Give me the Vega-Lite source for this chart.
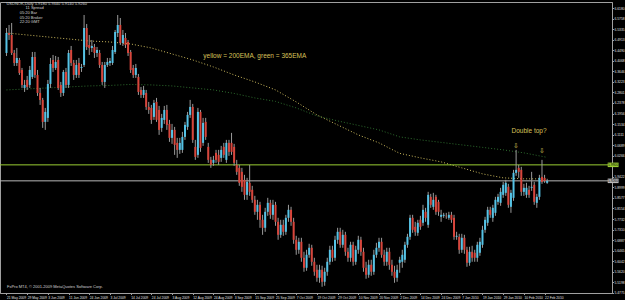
{
"$schema":"https://vega.github.io/schema/vega-lite/v6.json",
"width":612,"height":291,"autosize":"none",
"padding":{"left":0,"top":2,"right":13,"bottom":7},
"background":"#000000",
"config":{"view":{"stroke":"#a0a0a0","strokeWidth":1},"text":{"font":"Liberation Sans"},
 "axis":{"labelFont":"Liberation Sans","labelColor":"#e0e0e0","tickSize":1.5,"tickColor":"#a0a0a0","domainColor":"#a0a0a0","labelPadding":0.5,"grid":false,"labelOverlap":false,"labelBound":false,"labelFlush":false,"tickCount":100},
 "axisX":{"labelAlign":"left","labelBaseline":"top","labelFontSize":3.3},
 "axisY":{"labelFontSize":3.3,"labelAlign":"left","labelBaseline":"middle"}},
"datasets":{
"bars":[
{"i":0,"o":6.438,"h":6.538,"l":6.426,"c":6.518},{"i":1,"o":6.518,"h":6.550,"l":6.490,"c":6.510},{"i":2,"o":6.510,"h":6.558,"l":6.430,"c":6.438},{"i":3,"o":6.438,"h":6.450,"l":6.386,"c":6.398},{"i":4,"o":6.398,"h":6.458,"l":6.386,"c":6.418},
{"i":5,"o":6.410,"h":6.418,"l":6.350,"c":6.358},{"i":6,"o":6.370,"h":6.378,"l":6.298,"c":6.310},{"i":7,"o":6.298,"h":6.330,"l":6.282,"c":6.310},{"i":8,"o":6.330,"h":6.346,"l":6.290,"c":6.302},{"i":9,"o":6.310,"h":6.386,"l":6.298,"c":6.370},
{"i":10,"o":6.342,"h":6.442,"l":6.334,"c":6.422},{"i":11,"o":6.422,"h":6.442,"l":6.338,"c":6.350},{"i":12,"o":6.350,"h":6.370,"l":6.266,"c":6.278},{"i":13,"o":6.278,"h":6.298,"l":6.230,"c":6.250},{"i":14,"o":6.250,"h":6.258,"l":6.138,"c":6.162},
{"i":15,"o":6.162,"h":6.218,"l":6.130,"c":6.202},{"i":16,"o":6.178,"h":6.330,"l":6.162,"c":6.314},{"i":17,"o":6.314,"h":6.418,"l":6.298,"c":6.394},{"i":18,"o":6.410,"h":6.430,"l":6.362,"c":6.378},{"i":19,"o":6.378,"h":6.426,"l":6.370,"c":6.402},
{"i":20,"o":6.410,"h":6.422,"l":6.290,"c":6.298},{"i":21,"o":6.310,"h":6.322,"l":6.262,"c":6.278},{"i":22,"o":6.278,"h":6.370,"l":6.266,"c":6.362},{"i":23,"o":6.362,"h":6.378,"l":6.298,"c":6.310},{"i":24,"o":6.310,"h":6.450,"l":6.298,"c":6.438},
{"i":25,"o":6.450,"h":6.466,"l":6.386,"c":6.398},{"i":26,"o":6.398,"h":6.410,"l":6.330,"c":6.350},{"i":27,"o":6.350,"h":6.410,"l":6.338,"c":6.390},{"i":28,"o":6.398,"h":6.418,"l":6.338,"c":6.350},{"i":29,"o":6.378,"h":6.394,"l":6.362,"c":6.382},
{"i":30,"o":6.390,"h":6.590,"l":6.382,"c":6.538},{"i":31,"o":6.538,"h":6.554,"l":6.450,"c":6.462},{"i":32,"o":6.470,"h":6.510,"l":6.430,"c":6.458},{"i":33,"o":6.458,"h":6.490,"l":6.442,"c":6.466},{"i":34,"o":6.462,"h":6.474,"l":6.418,"c":6.438},
{"i":35,"o":6.438,"h":6.462,"l":6.422,"c":6.450},{"i":36,"o":6.438,"h":6.450,"l":6.378,"c":6.390},{"i":37,"o":6.390,"h":6.402,"l":6.310,"c":6.322},{"i":38,"o":6.322,"h":6.402,"l":6.298,"c":6.390},{"i":39,"o":6.390,"h":6.418,"l":6.382,"c":6.402},
{"i":40,"o":6.398,"h":6.418,"l":6.386,"c":6.406},{"i":41,"o":6.398,"h":6.466,"l":6.390,"c":6.450},{"i":42,"o":6.442,"h":6.530,"l":6.434,"c":6.522},{"i":43,"o":6.518,"h":6.590,"l":6.502,"c":6.550},{"i":44,"o":6.550,"h":6.578,"l":6.470,"c":6.478},
{"i":45,"o":6.478,"h":6.530,"l":6.466,"c":6.510},{"i":46,"o":6.498,"h":6.518,"l":6.458,"c":6.470},{"i":47,"o":6.482,"h":6.490,"l":6.426,"c":6.438},{"i":48,"o":6.442,"h":6.450,"l":6.358,"c":6.370},{"i":49,"o":6.378,"h":6.390,"l":6.338,"c":6.350},
{"i":50,"o":6.350,"h":6.394,"l":6.338,"c":6.378},{"i":51,"o":6.342,"h":6.354,"l":6.270,"c":6.282},{"i":52,"o":6.290,"h":6.302,"l":6.258,"c":6.270},{"i":53,"o":6.270,"h":6.306,"l":6.258,"c":6.290},{"i":54,"o":6.278,"h":6.290,"l":6.210,"c":6.222},
{"i":55,"o":6.222,"h":6.242,"l":6.194,"c":6.210},{"i":56,"o":6.218,"h":6.230,"l":6.154,"c":6.170},{"i":57,"o":6.182,"h":6.250,"l":6.170,"c":6.238},{"i":58,"o":6.242,"h":6.258,"l":6.162,"c":6.170},{"i":59,"o":6.210,"h":6.226,"l":6.110,"c":6.130},
{"i":60,"o":6.138,"h":6.194,"l":6.122,"c":6.178},{"i":61,"o":6.170,"h":6.226,"l":6.154,"c":6.210},{"i":62,"o":6.210,"h":6.230,"l":6.130,"c":6.150},{"i":63,"o":6.154,"h":6.170,"l":6.082,"c":6.098},{"i":64,"o":6.098,"h":6.154,"l":6.074,"c":6.130},
{"i":65,"o":6.130,"h":6.142,"l":6.030,"c":6.070},{"i":66,"o":6.078,"h":6.098,"l":6.018,"c":6.050},{"i":67,"o":6.050,"h":6.098,"l":6.034,"c":6.078},{"i":68,"o":6.050,"h":6.122,"l":6.038,"c":6.102},{"i":69,"o":6.102,"h":6.162,"l":6.090,"c":6.150},
{"i":70,"o":6.142,"h":6.202,"l":6.130,"c":6.190},{"i":71,"o":6.190,"h":6.250,"l":6.178,"c":6.222},{"i":72,"o":6.222,"h":6.234,"l":6.078,"c":6.090},{"i":73,"o":6.062,"h":6.090,"l":6.010,"c":6.022},{"i":74,"o":6.030,"h":6.218,"l":6.018,"c":6.202},
{"i":75,"o":6.202,"h":6.210,"l":6.042,"c":6.058},{"i":76,"o":6.078,"h":6.178,"l":6.066,"c":6.158},{"i":77,"o":6.162,"h":6.178,"l":6.090,"c":6.102},{"i":78,"o":6.062,"h":6.078,"l":5.998,"c":6.010},{"i":79,"o":6.010,"h":6.022,"l":5.978,"c":5.990},
{"i":80,"o":5.998,"h":6.026,"l":5.986,"c":6.010},{"i":81,"o":6.038,"h":6.050,"l":5.998,"c":6.010},{"i":82,"o":6.030,"h":6.050,"l":5.990,"c":6.002},{"i":83,"o":6.018,"h":6.066,"l":6.002,"c":6.050},{"i":84,"o":6.062,"h":6.078,"l":6.018,"c":6.030},
{"i":85,"o":6.010,"h":6.090,"l":5.998,"c":6.078},{"i":86,"o":6.078,"h":6.090,"l":6.026,"c":6.042},{"i":87,"o":6.078,"h":6.118,"l":6.030,"c":6.042},{"i":88,"o":6.062,"h":6.074,"l":5.986,"c":5.998},{"i":89,"o":5.990,"h":6.010,"l":5.950,"c":5.962},
{"i":90,"o":5.978,"h":5.990,"l":5.906,"c":5.918},{"i":91,"o":5.962,"h":5.978,"l":5.882,"c":5.902},{"i":92,"o":5.930,"h":5.950,"l":5.850,"c":5.870},{"i":93,"o":5.870,"h":5.938,"l":5.850,"c":5.922},{"i":94,"o":5.918,"h":5.990,"l":5.866,"c":5.882},
{"i":95,"o":5.890,"h":5.906,"l":5.838,"c":5.850},{"i":96,"o":5.850,"h":5.866,"l":5.790,"c":5.802},{"i":97,"o":5.802,"h":5.850,"l":5.770,"c":5.830},{"i":98,"o":5.830,"h":5.842,"l":5.738,"c":5.770},{"i":99,"o":5.770,"h":5.790,"l":5.710,"c":5.738},
{"i":100,"o":5.738,"h":5.818,"l":5.722,"c":5.802},{"i":101,"o":5.802,"h":5.858,"l":5.786,"c":5.838},{"i":102,"o":5.838,"h":5.850,"l":5.774,"c":5.790},{"i":103,"o":5.790,"h":5.850,"l":5.770,"c":5.830},{"i":104,"o":5.830,"h":5.842,"l":5.746,"c":5.762},
{"i":105,"o":5.762,"h":5.778,"l":5.690,"c":5.710},{"i":106,"o":5.710,"h":5.770,"l":5.698,"c":5.750},{"i":107,"o":5.750,"h":5.770,"l":5.706,"c":5.722},{"i":108,"o":5.722,"h":5.790,"l":5.710,"c":5.778},{"i":109,"o":5.778,"h":5.830,"l":5.762,"c":5.810},
{"i":110,"o":5.810,"h":5.822,"l":5.746,"c":5.762},{"i":111,"o":5.762,"h":5.778,"l":5.674,"c":5.690},{"i":112,"o":5.690,"h":5.706,"l":5.630,"c":5.650},{"i":113,"o":5.650,"h":5.698,"l":5.634,"c":5.682},{"i":114,"o":5.682,"h":5.698,"l":5.602,"c":5.618},
{"i":115,"o":5.618,"h":5.642,"l":5.562,"c":5.578},{"i":116,"o":5.578,"h":5.650,"l":5.566,"c":5.630},{"i":117,"o":5.630,"h":5.674,"l":5.618,"c":5.658},{"i":118,"o":5.658,"h":5.670,"l":5.586,"c":5.602},{"i":119,"o":5.602,"h":5.618,"l":5.546,"c":5.562},
{"i":120,"o":5.570,"h":5.590,"l":5.522,"c":5.538},{"i":121,"o":5.538,"h":5.590,"l":5.518,"c":5.570},{"i":122,"o":5.570,"h":5.586,"l":5.502,"c":5.522},{"i":123,"o":5.522,"h":5.578,"l":5.506,"c":5.562},{"i":124,"o":5.562,"h":5.618,"l":5.546,"c":5.602},
{"i":125,"o":5.602,"h":5.666,"l":5.590,"c":5.650},{"i":126,"o":5.650,"h":5.666,"l":5.602,"c":5.618},{"i":127,"o":5.618,"h":5.706,"l":5.606,"c":5.690},{"i":128,"o":5.690,"h":5.738,"l":5.674,"c":5.722},{"i":129,"o":5.722,"h":5.738,"l":5.658,"c":5.670},
{"i":130,"o":5.670,"h":5.730,"l":5.658,"c":5.710},{"i":131,"o":5.710,"h":5.722,"l":5.626,"c":5.642},{"i":132,"o":5.642,"h":5.658,"l":5.602,"c":5.618},{"i":133,"o":5.618,"h":5.682,"l":5.602,"c":5.670},{"i":134,"o":5.670,"h":5.682,"l":5.586,"c":5.602},
{"i":135,"o":5.602,"h":5.666,"l":5.590,"c":5.650},{"i":136,"o":5.650,"h":5.706,"l":5.634,"c":5.690},{"i":137,"o":5.690,"h":5.702,"l":5.626,"c":5.642},{"i":138,"o":5.642,"h":5.658,"l":5.562,"c":5.578},{"i":139,"o":5.578,"h":5.602,"l":5.534,"c":5.550},
{"i":140,"o":5.550,"h":5.610,"l":5.538,"c":5.590},{"i":141,"o":5.590,"h":5.610,"l":5.546,"c":5.562},{"i":142,"o":5.562,"h":5.650,"l":5.550,"c":5.630},{"i":143,"o":5.630,"h":5.678,"l":5.618,"c":5.658},{"i":144,"o":5.658,"h":5.698,"l":5.642,"c":5.682},
{"i":145,"o":5.682,"h":5.698,"l":5.618,"c":5.630},{"i":146,"o":5.630,"h":5.650,"l":5.586,"c":5.602},{"i":147,"o":5.602,"h":5.658,"l":5.586,"c":5.642},{"i":148,"o":5.642,"h":5.658,"l":5.570,"c":5.590},{"i":149,"o":5.590,"h":5.610,"l":5.546,"c":5.562},
{"i":150,"o":5.562,"h":5.586,"l":5.518,"c":5.538},{"i":151,"o":5.538,"h":5.590,"l":5.522,"c":5.570},{"i":152,"o":5.598,"h":5.622,"l":5.558,"c":5.610},{"i":153,"o":5.602,"h":5.650,"l":5.578,"c":5.630},{"i":154,"o":5.610,"h":5.682,"l":5.598,"c":5.670},
{"i":155,"o":5.670,"h":5.714,"l":5.658,"c":5.702},{"i":156,"o":5.702,"h":5.790,"l":5.690,"c":5.778},{"i":157,"o":5.778,"h":5.790,"l":5.718,"c":5.730},{"i":158,"o":5.742,"h":5.762,"l":5.706,"c":5.722},{"i":159,"o":5.718,"h":5.770,"l":5.706,"c":5.758},
{"i":160,"o":5.770,"h":5.786,"l":5.730,"c":5.742},{"i":161,"o":5.758,"h":5.830,"l":5.746,"c":5.810},{"i":162,"o":5.802,"h":5.818,"l":5.762,"c":5.778},{"i":163,"o":5.750,"h":5.882,"l":5.738,"c":5.870},{"i":164,"o":5.862,"h":5.874,"l":5.818,"c":5.830},
{"i":165,"o":5.822,"h":5.878,"l":5.810,"c":5.850},{"i":166,"o":5.862,"h":5.870,"l":5.790,"c":5.802},{"i":167,"o":5.842,"h":5.850,"l":5.786,"c":5.802},{"i":168,"o":5.782,"h":5.810,"l":5.762,"c":5.790},{"i":169,"o":5.786,"h":5.798,"l":5.778,"c":5.790},
{"i":170,"o":5.786,"h":5.798,"l":5.774,"c":5.784},{"i":171,"o":5.778,"h":5.802,"l":5.770,"c":5.790},{"i":172,"o":5.790,"h":5.802,"l":5.758,"c":5.770},{"i":173,"o":5.778,"h":5.790,"l":5.690,"c":5.702},{"i":174,"o":5.702,"h":5.722,"l":5.690,"c":5.706},
{"i":175,"o":5.702,"h":5.714,"l":5.634,"c":5.650},{"i":176,"o":5.650,"h":5.714,"l":5.638,"c":5.698},{"i":177,"o":5.698,"h":5.710,"l":5.634,"c":5.650},{"i":178,"o":5.650,"h":5.662,"l":5.582,"c":5.598},{"i":179,"o":5.598,"h":5.662,"l":5.586,"c":5.642},
{"i":180,"o":5.642,"h":5.666,"l":5.602,"c":5.618},{"i":181,"o":5.638,"h":5.650,"l":5.602,"c":5.618},{"i":182,"o":5.618,"h":5.682,"l":5.602,"c":5.670},{"i":183,"o":5.638,"h":5.698,"l":5.626,"c":5.682},{"i":184,"o":5.670,"h":5.746,"l":5.658,"c":5.730},
{"i":185,"o":5.730,"h":5.782,"l":5.718,"c":5.770},{"i":186,"o":5.758,"h":5.822,"l":5.746,"c":5.810},{"i":187,"o":5.810,"h":5.822,"l":5.778,"c":5.790},{"i":188,"o":5.778,"h":5.830,"l":5.762,"c":5.818},{"i":189,"o":5.798,"h":5.862,"l":5.786,"c":5.850},
{"i":190,"o":5.842,"h":5.874,"l":5.830,"c":5.862},{"i":191,"o":5.838,"h":5.898,"l":5.826,"c":5.882},{"i":192,"o":5.870,"h":5.922,"l":5.858,"c":5.910},{"i":193,"o":5.878,"h":5.930,"l":5.866,"c":5.918},{"i":194,"o":5.902,"h":5.914,"l":5.818,"c":5.830},
{"i":195,"o":5.822,"h":5.890,"l":5.798,"c":5.878},{"i":196,"o":5.858,"h":5.970,"l":5.846,"c":5.958},{"i":197,"o":5.958,"h":6.050,"l":5.946,"c":5.970},{"i":198,"o":5.978,"h":5.990,"l":5.938,"c":5.962},{"i":199,"o":5.970,"h":5.982,"l":5.866,"c":5.882},
{"i":200,"o":5.882,"h":5.914,"l":5.866,"c":5.898},{"i":201,"o":5.870,"h":5.918,"l":5.858,"c":5.898},{"i":202,"o":5.890,"h":5.906,"l":5.858,"c":5.870},{"i":203,"o":5.898,"h":5.962,"l":5.886,"c":5.902},{"i":204,"o":5.910,"h":5.922,"l":5.830,"c":5.842},
{"i":205,"o":5.838,"h":5.874,"l":5.818,"c":5.862},{"i":206,"o":5.862,"h":5.950,"l":5.850,"c":5.938},{"i":207,"o":5.942,"h":6.010,"l":5.914,"c":5.922},{"i":208,"o":5.938,"h":5.950,"l":5.918,"c":5.926},{"i":209,"o":5.918,"h":5.934,"l":5.914,"c":5.926}
],
"ema":[
{"i":0,"e200":6.518,"e365":6.290},{"i":8,"e200":6.510,"e365":6.294},{"i":16,"e200":6.502,"e365":6.298},{"i":24,"e200":6.494,"e365":6.302},{"i":32,"e200":6.486,"e365":6.306},
{"i":40,"e200":6.482,"e365":6.308},{"i":48,"e200":6.474,"e365":6.312},{"i":56,"e200":6.458,"e365":6.310},{"i":64,"e200":6.434,"e365":6.306},{"i":72,"e200":6.410,"e365":6.298},
{"i":80,"e200":6.382,"e365":6.290},{"i":88,"e200":6.350,"e365":6.276},{"i":96,"e200":6.322,"e365":6.258},{"i":104,"e200":6.290,"e365":6.244},{"i":112,"e200":6.242,"e365":6.218},
{"i":120,"e200":6.190,"e365":6.186},{"i":128,"e200":6.150,"e365":6.166},{"i":136,"e200":6.110,"e365":6.148},{"i":144,"e200":6.078,"e365":6.130},{"i":152,"e200":6.036,"e365":6.102},
{"i":160,"e200":6.018,"e365":6.090},{"i":168,"e200":6.002,"e365":6.080},{"i":176,"e200":5.978,"e365":6.070},{"i":184,"e200":5.954,"e365":6.060},{"i":192,"e200":5.938,"e365":6.050},
{"i":200,"e200":5.934,"e365":6.038},{"i":209,"e200":5.934,"e365":6.020}
],
"levels":[{"p":5.99,"k":"res","lo":5.981,"hi":5.999,"t":"5.9900"},{"p":5.926,"k":"bid","lo":5.917,"hi":5.935,"t":"5.9260"}],
"notes":[
{"i":96,"p":6.426,"t":"yellow = 200EMA, green = 365EMA"},
{"i":202,"p":6.126,"t":"Double top?"},
{"i":197.1,"p":6.066,"t":"⇩"},
{"i":207,"p":6.046,"t":"⇩"}
],
"info":[
{"i":0,"p":6.634,"t":"USDNOK,Daily  5.9180 5.9340 5.9140 5.9260"},
{"i":7.4,"p":6.618,"t":"11 Spread"},
{"i":5.1,"p":6.596,"t":"05:20    Bar"},
{"i":5.1,"p":6.578,"t":"05:20    Broker"},
{"i":5.1,"p":6.560,"t":"22:20    GMT"},
{"i":0.2,"p":5.500,"t":"FxPro MT4, © 2001-2009 MetaQuotes Software Corp."}
]
},
"layer":[
{"data":{"name":"ema"},"mark":{"type":"line","color":"#CDBB5E","strokeWidth":1,"strokeDash":[1,2]},
 "encoding":{
  "x":{"field":"i","type":"quantitative","scale":{"domain":[-0.57,232.13],"zero":false,"nice":false},
   "axis":{"title":null,"tickCount":100,"labelOverlap":false,"labelFlush":false,"labelBound":false,"values":[0,8,16,24,32,40,48,56,64,72,80,88,96,104,112,120,128,136,144,152,160,168,176,184,192,200,208],
    "labelExpr":"['21 May 2009','29 May 2009','3 Jun 2009','11 Jun 2009','24 Jun 2009','3 Jul 2009','14 Jul 2009','24 Jul 2009','3 Aug 2009','12 Aug 2009','24 Aug 2009','3 Sep 2009','15 Sep 2009','25 Sep 2009','7 Oct 2009','19 Oct 2009','29 Oct 2009','10 Nov 2009','20 Nov 2009','2 Dec 2009','14 Dec 2009','24 Dec 2009','7 Jan 2010','19 Jan 2010','29 Jan 2010','10 Feb 2010','22 Feb 2010'][round(datum.value/8)]"}},
  "y":{"field":"e200","type":"quantitative","scale":{"domain":[5.477,6.642],"zero":false,"nice":false},
   "axis":{"title":null,"orient":"right","format":".4f","tickCount":100,"labelOverlap":false,"labelFlush":false,"labelBound":false,"values":[6.618,6.5758,6.5335,6.4913,6.449,6.4068,6.3646,6.3223,6.2801,6.2378,6.1956,6.1534,6.1111,6.0689,6.0266,5.9422,5.8999,5.8577,5.8154,5.7732,5.731,5.6887,5.6465,5.6042,5.562,5.5198,5.4775]}}
 }},
{"data":{"name":"ema"},"mark":{"type":"line","color":"#2E6E2E","strokeWidth":1,"strokeDash":[1,2]},
 "encoding":{
  "x":{"field":"i","type":"quantitative","scale":{"domain":[-0.57,232.13],"zero":false,"nice":false},"axis":{"title":null,"labelOverlap":false,"tickCount":100}},
  "y":{"field":"e365","type":"quantitative","scale":{"domain":[5.477,6.642],"zero":false,"nice":false},"axis":{"title":null,"orient":"right","labelOverlap":false,"tickCount":100}}}},
{"data":{"name":"levels"},"mark":{"type":"rule","strokeWidth":1},
 "encoding":{
  "y":{"field":"p","type":"quantitative","scale":{"domain":[5.477,6.642],"zero":false,"nice":false},"axis":{"title":null,"orient":"right","labelOverlap":false,"tickCount":100}},
  "color":{"field":"k","type":"nominal","scale":{"domain":["res","bid"],"range":["#9ACD32","#B8B8B8"]},"legend":null}}},
{"data":{"name":"bars"},"mark":{"type":"rule","color":"#9a9a9a","strokeWidth":1},
 "encoding":{
  "x":{"field":"i","type":"quantitative","scale":{"domain":[-0.57,232.13],"zero":false,"nice":false},"axis":{"title":null,"labelOverlap":false,"tickCount":100}},
  "y":{"field":"l","type":"quantitative","scale":{"domain":[5.477,6.642],"zero":false,"nice":false},"axis":{"title":null,"orient":"right","labelOverlap":false,"tickCount":100}},
  "y2":{"field":"h"}}},
{"data":{"name":"bars"},"mark":{"type":"bar","size":2},
 "encoding":{
  "x":{"field":"i","type":"quantitative","scale":{"domain":[-0.57,232.13],"zero":false,"nice":false},"axis":{"title":null,"labelOverlap":false,"tickCount":100}},
  "y":{"field":"o","type":"quantitative","scale":{"domain":[5.477,6.642],"zero":false,"nice":false},"axis":{"title":null,"orient":"right","labelOverlap":false,"tickCount":100}},
  "y2":{"field":"c"},
  "color":{"condition":{"test":"datum.c >= datum.o","value":"#55C3E6"},"value":"#D8453B"}}},
{"data":{"name":"notes"},"mark":{"type":"text","fontSize":6.5,"color":"#D9C15A","align":"center","baseline":"middle","font":"Liberation Sans"},
 "encoding":{
  "x":{"field":"i","type":"quantitative","scale":{"domain":[-0.57,232.13],"zero":false,"nice":false},"axis":{"title":null,"labelOverlap":false,"tickCount":100}},
  "y":{"field":"p","type":"quantitative","scale":{"domain":[5.477,6.642],"zero":false,"nice":false},"axis":{"title":null,"orient":"right","labelOverlap":false,"tickCount":100}},
  "text":{"field":"t"}}},
{"data":{"name":"info"},"mark":{"type":"text","fontSize":4,"color":"#d4d4d4","align":"left","baseline":"middle","font":"Liberation Sans"},
 "encoding":{
  "x":{"field":"i","type":"quantitative","scale":{"domain":[-0.57,232.13],"zero":false,"nice":false},"axis":{"title":null,"labelOverlap":false,"tickCount":100}},
  "y":{"field":"p","type":"quantitative","scale":{"domain":[5.477,6.642],"zero":false,"nice":false},"axis":{"title":null,"orient":"right","labelOverlap":false,"tickCount":100}},
  "text":{"field":"t"}}},
{"data":{"name":"levels"},"mark":{"type":"rect"},
 "encoding":{
  "x":{"datum":232.4,"type":"quantitative","scale":{"domain":[-0.57,232.13],"zero":false,"nice":false},"axis":{"title":null,"labelOverlap":false,"tickCount":100}},
  "x2":{"datum":236.6},
  "y":{"field":"lo","type":"quantitative","scale":{"domain":[5.477,6.642],"zero":false,"nice":false},"axis":{"title":null,"orient":"right","labelOverlap":false,"tickCount":100}},
  "y2":{"field":"hi"},
  "color":{"field":"k","type":"nominal","scale":{"domain":["res","bid"],"range":["#9ACD32","#E6E6E6"]},"legend":null}}},
{"data":{"name":"levels"},"mark":{"type":"text","fontSize":3.3,"color":"#000000","align":"left","baseline":"middle","font":"Liberation Sans"},
 "encoding":{
  "x":{"datum":232.5,"type":"quantitative","scale":{"domain":[-0.57,232.13],"zero":false,"nice":false},"axis":{"title":null,"labelOverlap":false,"tickCount":100}},
  "y":{"field":"p","type":"quantitative","scale":{"domain":[5.477,6.642],"zero":false,"nice":false},"axis":{"title":null,"orient":"right","labelOverlap":false,"tickCount":100}},
  "text":{"field":"t"}}}
]
}
